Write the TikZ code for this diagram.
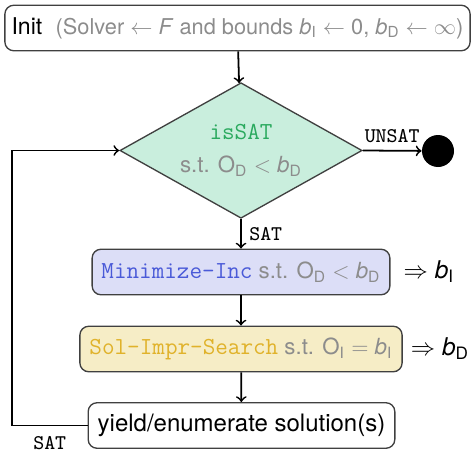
\documentclass[tikz,border=0pt]{standalone}
\usepackage{fontspec}
\setmainfont{TeX Gyre Heros}
\usetikzlibrary{shapes.geometric, arrows}
\usepackage{xcolor}
\definecolor{satgreen}{HTML}{2BAA5F}
\definecolor{satfill}{HTML}{C9EEDD}
\definecolor{mininc}{HTML}{4A5AD8}
\definecolor{minfill}{HTML}{DCDEF7}
\definecolor{solgold}{HTML}{E0B22A}
\definecolor{solfill}{HTML}{F6EDC6}
\definecolor{stgray}{HTML}{8C8C8C}
\tikzstyle{arrow} = [thick,->,>=to]
\tikzstyle{box} = [draw=black!75, semithick, rounded corners=4pt, minimum height=20.5pt, inner sep=3pt]
\tikzstyle{decide} = [diamond, draw=black!75, semithick, fill=satfill, aspect=1.78, minimum width=109pt, minimum height=61pt, inner sep=0pt, align=center]
\tikzstyle{lbl} = [font=\fontsize{9.4}{11}\selectfont\ttfamily]
\newcommand{\bndI}{\textit{b}\textsubscript{I}}
\newcommand{\bndD}{\textit{b}\textsubscript{D}}
\newcommand{\objD}{O\textsubscript{D}}
\newcommand{\objI}{O\textsubscript{I}}
\newcommand{\stgr}[1]{{\color{stgray}#1}}
\newcommand{\algo}[2]{{\fontsize{11}{13}\selectfont\ttfamily\color{#1}#2}}

\begin{document}
\begin{tikzpicture}[x=0.45pt, y=-0.45pt]
		\useasboundingbox (0,0) rectangle (475,451);

		\node[box, minimum width=209pt] (init) at (237.5,28) {\fontsize{10.4}{12}\selectfont Init\hspace{6pt}{\fontsize{9.8}{12}\selectfont\stgr{(Solver $\leftarrow$ \textit{F} and bounds \bndI{} $\leftarrow$ 0, \bndD{} $\leftarrow$ $\infty$)}}};
		\node[decide] (issat) at (241,150.5) {\algo{satgreen}{isSAT}\\[3pt]\stgr{s.t. \objD{} $<$ \bndD}};
		\node[circle, fill=black, minimum size=14.4pt, inner sep=0pt] (done) at (438,151) {};

		\node[box, fill=minfill, minimum width=134pt] (mininc) at (241,272) {\algo{mininc}{Minimize-Inc} \stgr{s.t. \objD{} $<$ \bndD}};
		\node[font=\fontsize{11}{13}\selectfont] (getI) at (429,272) {$\Rightarrow$ \bndI};
		\node[box, fill=solfill, minimum width=145pt] (solimpr) at (241,349) {\algo{solgold}{Sol-Impr-Search} \stgr{s.t. \objI{} $=$ \bndI}};
		\node[font=\fontsize{11}{13}\selectfont] (getD) at (440,349) {$\Rightarrow$ \bndD};
		\node[box, fill=white, minimum width=138pt, font=\fontsize{10.8}{13}\selectfont] (yield) at (241.5,425.5) {yield/enumerate solution(s)};

		\coordinate (loopbot) at (12,425.5);
		\coordinate (looptop) at (12,150.5);

		\draw[arrow] (init) -- (issat);
		\draw[arrow] (issat) -- node[right, lbl] {SAT} (mininc);
		\draw[arrow] (issat.east) -- node[above, lbl] {UNSAT} (done);
		\draw[arrow] (mininc) -- (solimpr);
		\draw[arrow] (solimpr) -- (yield);
		\draw[arrow] (yield.west) -- node[below, lbl, yshift=-1pt] {SAT} (loopbot) -- (looptop) -- (issat.west);
	\end{tikzpicture}
\end{document}
